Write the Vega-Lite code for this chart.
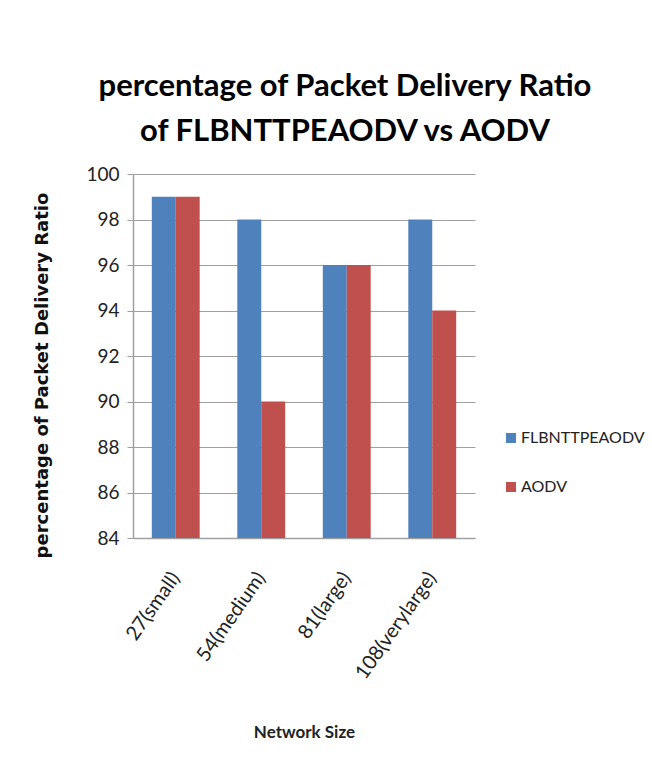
{
  "$schema": "https://vega.github.io/schema/vega-lite/v6.json",
  "autosize": "none",
  "width": 342,
  "height": 364,
  "padding": {"left": 133, "top": 174, "right": 177, "bottom": 237},
  "background": "white",
  "title": {
    "text": ["percentage of Packet Delivery Ratio", "of FLBNTTPEAODV vs AODV"],
    "font": "Lato",
    "fontSize": 31,
    "fontWeight": "bold",
    "color": "#000000",
    "lineHeight": 45,
    "anchor": "middle",
    "dx": 41,
    "offset": 17
  },
  "data": {
    "values": [
      {"size": "27(small)", "protocol": "FLBNTTPEAODV", "pdr": 99},
      {"size": "27(small)", "protocol": "AODV", "pdr": 99},
      {"size": "54(medium)", "protocol": "FLBNTTPEAODV", "pdr": 98},
      {"size": "54(medium)", "protocol": "AODV", "pdr": 90},
      {"size": "81(large)", "protocol": "FLBNTTPEAODV", "pdr": 96},
      {"size": "81(large)", "protocol": "AODV", "pdr": 96},
      {"size": "108(verylarge)", "protocol": "FLBNTTPEAODV", "pdr": 98},
      {"size": "108(verylarge)", "protocol": "AODV", "pdr": 94}
    ]
  },
  "mark": {"type": "bar"},
  "encoding": {
    "x": {
      "field": "size",
      "type": "nominal",
      "sort": ["27(small)", "54(medium)", "81(large)", "108(verylarge)"],
      "scale": {"paddingInner": 0.44, "paddingOuter": 0.22},
      "axis": {
        "title": "Network Size",
        "titleFont": "Lato",
        "titleFontSize": 17,
        "titleFontWeight": "bold",
        "titleColor": "#222222",
        "titleY": 194,
        "titleBaseline": "middle",
        "labelAngle": -55,
        "labelFont": "Lato",
        "labelFontSize": 20,
        "labelColor": "#222222",
        "labelPadding": 36,
        "labelDx": -4,
        "ticks": false,
        "domainColor": "#a0a0a0",
        "domainWidth": 1.5
      }
    },
    "xOffset": {
      "field": "protocol",
      "type": "nominal",
      "sort": ["FLBNTTPEAODV", "AODV"],
      "scale": {"paddingInner": 0, "paddingOuter": 0}
    },
    "y": {
      "field": "pdr",
      "type": "quantitative",
      "scale": {"domain": [84, 100], "zero": false, "nice": false},
      "axis": {
        "title": "percentage of Packet Delivery Ratio",
        "titleFont": "DejaVu Sans",
        "titleFontSize": 18,
        "titleFontWeight": "bold",
        "titleColor": "#111111",
        "titleX": -91,
        "titleY": 201,
        "titleBaseline": "middle",
        "values": [84, 86, 88, 90, 92, 94, 96, 98, 100],
        "labelFont": "Lato",
        "labelFontSize": 19,
        "labelColor": "#222222",
        "labelPadding": 8,
        "tickSize": 6,
        "tickColor": "#a0a0a0",
        "domainColor": "#a0a0a0",
        "domainWidth": 1.5,
        "grid": true,
        "gridColor": "#a0a0a0",
        "gridWidth": 1.2
      }
    },
    "y2": {"datum": 84},
    "color": {
      "field": "protocol",
      "type": "nominal",
      "sort": ["FLBNTTPEAODV", "AODV"],
      "scale": {"domain": ["FLBNTTPEAODV", "AODV"], "range": ["#4f81bd", "#c0504d"]},
      "legend": {
        "title": null,
        "orient": "none",
        "legendX": 370,
        "legendY": 256,
        "padding": 0,
        "symbolType": "square",
        "symbolSize": 100,
        "symbolStrokeWidth": 0,
        "labelFont": "Lato",
        "labelFontSize": 16,
        "labelColor": "#222222",
        "labelOffset": 2,
        "rowPadding": 33
      }
    }
  },
  "config": {
    "view": {"stroke": null}
  }
}
